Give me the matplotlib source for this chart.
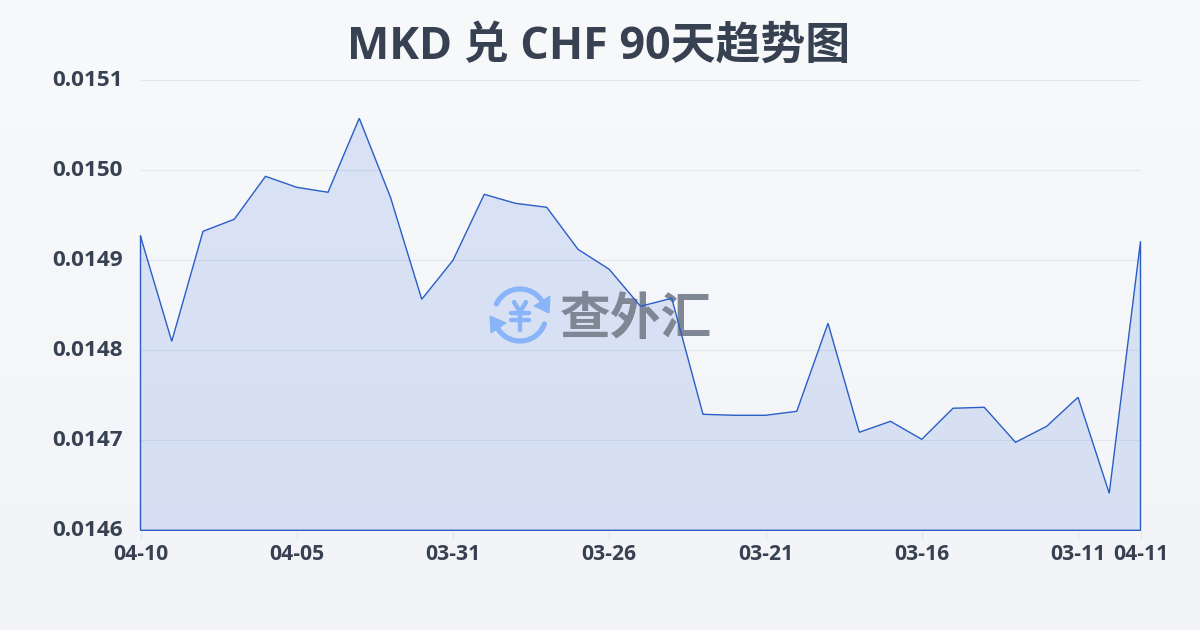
import numpy as np
import matplotlib
matplotlib.use("Agg")
import matplotlib.pyplot as plt
from matplotlib.patches import Arc, Polygon
from matplotlib.transforms import Affine2D, ScaledTranslation

plt.rcParams['font.family'] = ['Open Sans', 'Noto Sans CJK SC', 'DejaVu Sans']

title = "MKD 兑 CHF 90天趋势图"
values = [0.0149267, 0.0148100, 0.0149322, 0.0149456, 0.0149933, 0.0149811, 0.0149756,
          0.0150578, 0.0149700, 0.0148567, 0.0149000, 0.0149733, 0.0149633, 0.0149589,
          0.0149122, 0.0148900, 0.0148489, 0.0148578, 0.0147289, 0.0147278, 0.0147278,
          0.0147322, 0.0148300, 0.0147089, 0.0147211, 0.0147011, 0.0147356, 0.0147367,
          0.0146978, 0.0147156, 0.0147478, 0.0146411, 0.0149211]
x_ticks = [0, 5, 10, 15, 20, 25, 30, 32]
x_labels = ["04-10", "04-05", "03-31", "03-26", "03-21", "03-16", "03-11", "04-11"]
y_ticks = [0.0146, 0.0147, 0.0148, 0.0149, 0.0150, 0.0151]

TEXT = "#374151"
LINE = "#2a5ec6"
GRID = "#e3e6ec"
ICON = "#8ab4f8"

W, H = 1200, 630
fig = plt.figure(figsize=(W / 100, H / 100), dpi=100)

# page background gradient
bg = fig.add_axes([0, 0, 1, 1], zorder=0)
bg.axis("off")
grad = np.linspace(0, 1, 256).reshape(-1, 1, 1)
top = np.array([0xf8, 0xf9, 0xfb]) / 255
bot = np.array([0xf3, 0xf4, 0xf7]) / 255
bg.imshow(top + (bot - top) * grad, aspect="auto", extent=[0, 1, 0, 1])

ax = fig.add_axes([140.5 / W, 1 - 530.3 / H, 1000 / W, 450 / H], zorder=1)
ax.patch.set_visible(False)
xs = np.arange(len(values))
ax.fill_between(xs, values, y_ticks[0], facecolor="#2f66dc", alpha=0.145, linewidth=0, zorder=2)
ax.plot(np.r_[xs, xs[-1], xs[0], xs[0]],
        np.r_[values, y_ticks[0], y_ticks[0], values[0]],
        color=LINE, lw=1.0, zorder=5, solid_joinstyle="miter", clip_on=False)

ax.set_xlim(0, len(values) - 1)
ax.set_ylim(y_ticks[0], y_ticks[-1])
ax.set_xticks(x_ticks, x_labels)
ax.set_yticks(y_ticks, [f"{v:.4f}" for v in y_ticks])
ax.grid(axis="y", color=GRID, lw=0.8)
ax.set_axisbelow(True)
for s in ax.spines.values():
    s.set_visible(False)
ax.tick_params(axis="x", length=7, width=0.8, color=GRID, pad=3, labelsize=15.2, labelcolor=TEXT)
ax.tick_params(axis="y", length=0, pad=13, labelsize=16.2, labelcolor=TEXT)
for t in ax.get_xticklabels() + ax.get_yticklabels():
    t.set_fontweight("bold")
up = ScaledTranslation(0, 2 / 100, fig.dpi_scale_trans)
for t in ax.get_yticklabels():
    t.set_transform(t.get_transform() + up)

# title
fig.text(599 / W, 1 - 47 / H, title, ha="center", va="center", fontsize=32.3,
         fontweight="bold", color=TEXT)

# watermark, in page pixels, between the fill and the line
px = Affine2D().scale(1, -1).translate(0, H)
ax.text(636, 321, "查外汇", transform=px, ha="center", va="center", fontsize=36.5,
        fontweight="bold", color="#7f8694", zorder=3, clip_on=False)
for t1, t2 in [(205, 340), (20, 165)]:
    ax.add_patch(Arc((520, 315), 52, 52, theta1=t1, theta2=t2, transform=px, color=ICON,
                     lw=3.8, zorder=3, clip_on=False, capstyle="round"))
ax.add_patch(Polygon([(550, 296), (549, 313), (534, 306)], closed=True, transform=px,
                     fc=ICON, ec=ICON, lw=0.8, zorder=3, clip_on=False))
ax.add_patch(Polygon([(490, 316), (506, 323), (491, 333)], closed=True, transform=px,
                     fc=ICON, ec=ICON, lw=0.8, zorder=3, clip_on=False))
for xx, yy in [((514, 520, 526), (302, 312, 302)), ((511, 529), (313, 313)),
               ((511, 529), (320, 320)), ((520, 520), (312, 330))]:
    ax.plot(xx, yy, transform=px, color=ICON, lw=3.2, zorder=3, clip_on=False,
            solid_capstyle="round", solid_joinstyle="round", scalex=False, scaley=False)

fig.savefig("out.png", dpi=100)
